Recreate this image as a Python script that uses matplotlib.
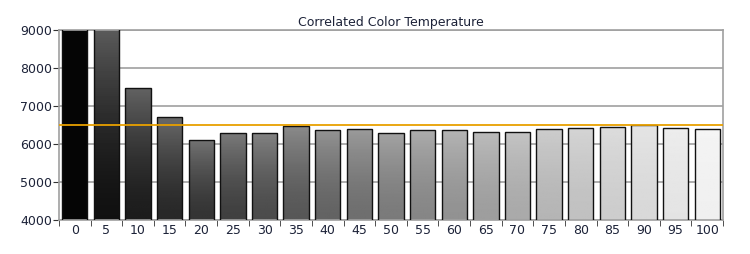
import numpy as np
import matplotlib
matplotlib.use("Agg")
import matplotlib.pyplot as plt

# stimulus levels (%) and measured correlated color temperature (K)
levels = [0, 5, 10, 15, 20, 25, 30, 35, 40, 45, 50,
          55, 60, 65, 70, 75, 80, 85, 90, 95, 100]
cct = [10500, 9600, 7466, 6711, 6105, 6290, 6290, 6482, 6360, 6395, 6298,
       6360, 6360, 6325, 6325, 6386, 6421, 6456, 6490, 6421, 6395]
target = 6500
y_ticks = [4000, 5000, 6000, 7000, 8000, 9000]

text_col = "#1c2238"

fig = plt.figure(figsize=(7.5, 2.54), dpi=100)
ax = fig.add_axes([59 / 750, 1 - 220 / 254, 664 / 750, 190 / 254])

x = np.arange(len(levels))
bars = ax.bar(x, cct, width=0.8, bottom=0, edgecolor="#111111",
              linewidth=1.0, zorder=3, color="none")

# grey level of each bar follows the stimulus level, lighter near the top
for b, lv in zip(bars, levels):
    g = 0.02 + 0.92 * lv / 100
    d = 0.0 if lv == 0 else 0.28 * (1 - lv / 100) + 0.02
    s = np.linspace(1, 0, 60) ** 1.6
    grad = np.clip(g + d * s, 0, 1).reshape(-1, 1)
    x0 = b.get_x()
    h = min(b.get_height(), 9000)
    im = ax.imshow(grad, cmap="gray", vmin=0, vmax=1, aspect="auto",
                   extent=[x0, x0 + b.get_width(), 4000, h],
                   zorder=2.5, interpolation="bilinear")
    im.set_clip_path(b)

ax.axhline(target, color="#e8a000", linewidth=1.3, zorder=4)

ax.set_xlim(-0.5, len(levels) - 0.5)
ax.set_ylim(4000, 9000)
ax.set_yticks(y_ticks)
ax.set_xticks(x)
ax.set_xticklabels([str(v) for v in levels])
ax.set_xticks(np.arange(-0.5, len(levels), 1), minor=True)
ax.tick_params(axis="x", which="major", length=0, pad=3,
               labelsize=9, labelcolor=text_col)
ax.tick_params(axis="x", which="minor", length=4, color="#333333",
               direction="out")
ax.tick_params(axis="y", length=4, color="#333333", labelsize=9,
               labelcolor=text_col, pad=1)

ax.yaxis.grid(True, color="#a0a0a0", linewidth=1.2, zorder=0)
ax.set_axisbelow(True)
for s in ax.spines.values():
    s.set_color("#a0a0a0")
    s.set_linewidth(1.2)

ax.set_title("Correlated Color Temperature", fontsize=9, color=text_col,
             pad=3)

fig.savefig("out.png", dpi=100, facecolor="white")
